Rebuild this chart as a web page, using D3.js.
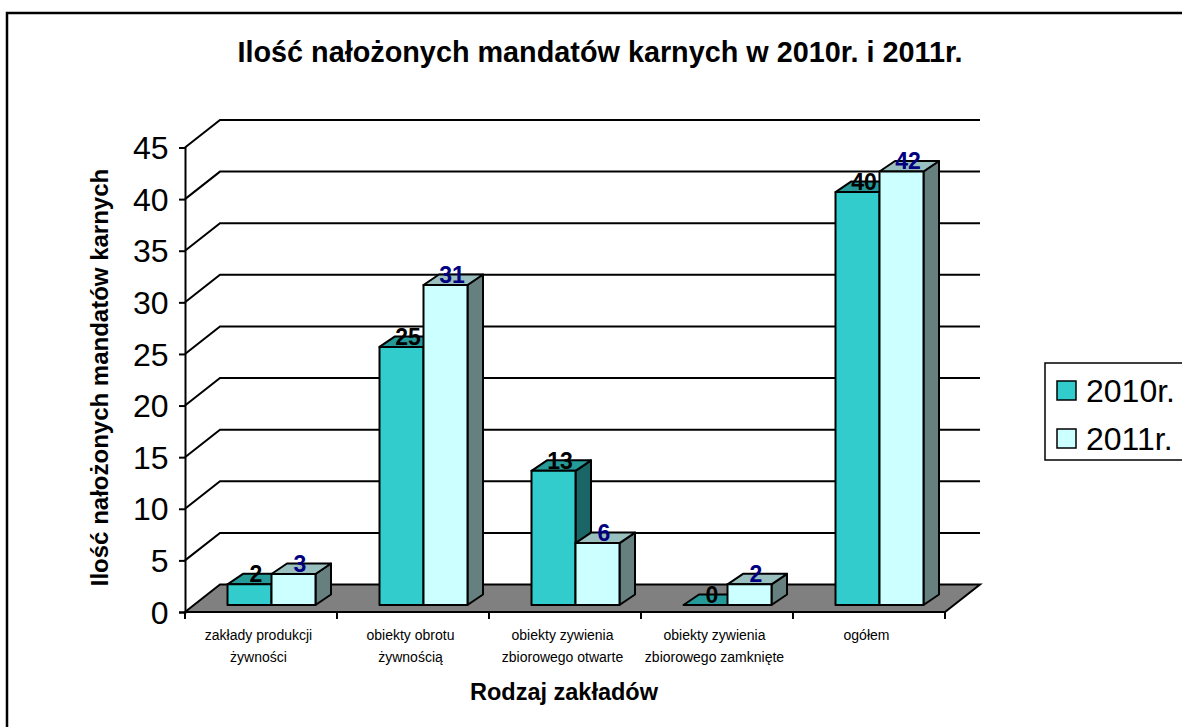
<!DOCTYPE html>
<html>
<head>
<meta charset="utf-8">
<script src="https://cdn.jsdelivr.net/npm/d3@7"></script>
<style>
  html, body { margin: 0; padding: 0; background: #fff; overflow: hidden; }
  text { font-family: "Liberation Sans", Arial, sans-serif; fill: #000; }
</style>
</head>
<body>
<div id="chart"></div>
<script>
var categories = ["c1", "c2", "c3", "c4", "c5"];
var categoryLabels = [
  ["zakłady produkcji", "żywności"],
  ["obiekty obrotu", "żywnością"],
  ["obiekty zywienia", "zbiorowego otwarte"],
  ["obiekty zywienia", "zbiorowego zamknięte"],
  ["ogółem"]
];
var seriesNames = ["2010r.", "2011r."];
var values2010 = [2, 25, 13, 0, 40];
var values2011 = [3, 31, 6, 2, 42];
var yTicks = [0, 5, 10, 15, 20, 25, 30, 35, 40, 45];

var svgWidth = 1182;
var svgHeight = 727;

var svg = d3.select("#chart")
  .append("svg")
  .attr("width", svgWidth)
  .attr("height", svgHeight)
  .style("display", "block");

// chart frame, runs off the right and bottom of the picture
svg.append("rect")
  .attr("x", 7).attr("y", 13)
  .attr("width", 1190).attr("height", 730)
  .attr("fill", "#fff").attr("stroke", "#000").attr("stroke-width", 2.5);

//Plot Scales
const xScale = d3.scaleBand().domain(categories).range([185, 945]);
const yScale = d3.scaleLinear().domain([0, 45]).range([612, 147.5]);

// 3d offsets
const wallDx = 35, wallDy = 27.5;   // front plane to back wall
const barInDx = 10.5, barInDy = 7;  // front plane to bar front
const barDx = 15.5, barDy = 10.5;   // bar depth
const barW = 44;

const poly = pts => pts.map(p => p.join(",")).join(" ");

//Walls gridlines
var y0 = yScale(0), xL = xScale.range()[0], xR = xScale.range()[1];

svg.append("g").selectAll("polyline")
  .data(yTicks.filter(d => d > 0))
  .enter()
  .append("polyline")
  .attr("points", d => poly([[xL, yScale(d)], [xL + wallDx, yScale(d) - wallDy], [xR + wallDx, yScale(d) - wallDy]]))
  .attr("fill", "none")
  .attr("stroke", "#000")
  .attr("stroke-width", 2);

//Floor
svg.append("polygon")
  .attr("points", poly([[xL, y0], [xL + wallDx, y0 - wallDy], [xR + wallDx, y0 - wallDy], [xR, y0]]))
  .attr("fill", "#808080")
  .attr("stroke", "#000")
  .attr("stroke-width", 2);

//Axes
const yAxis = d3.axisLeft(yScale).tickValues(yTicks).tickSize(6).tickPadding(10.5);
var yG = svg.append("g").attr("transform", `translate(${xL}, 0)`).call(yAxis);
yG.selectAll("path, line").attr("stroke", "#000").attr("stroke-width", 2);
yG.selectAll("text")
  .attr("font-size", "32px")
  .attr("dy", "0.35em")
  .style("font-family", '"Liberation Sans", Arial, sans-serif')
  .attr("fill", "#000");

svg.append("line")
  .attr("x1", xL).attr("x2", xR).attr("y1", y0).attr("y2", y0)
  .attr("stroke", "#000").attr("stroke-width", 2);

svg.append("g").selectAll("line")
  .data(categories.map(d => xScale(d)).concat([xR]))
  .enter()
  .append("line")
  .attr("x1", d => d).attr("x2", d => d)
  .attr("y1", y0).attr("y2", y0 + 7)
  .attr("stroke", "#000").attr("stroke-width", 2);

//Bars
var seriesStyle = [
  { values: values2010, front: "#33CCCC", top: "#269999", side: "#1A6666", label: "#000" },
  { values: values2011, front: "#CCFFFF", top: "#99BFBF", side: "#668080", label: "#000080" }
];

var barsG = svg.append("g");
var gap = (xScale.bandwidth() - 2 * barW) / 2;
categories.forEach(function(cat, i) {
  seriesStyle.forEach(function(s, j) {
    var x0 = xScale(cat) + barInDx + gap + j * barW;
    var x1 = x0 + barW;
    var yb = y0 - barInDy;
    var yt = yb - (y0 - yScale(s.values[i]));
    var g = barsG.append("g")
      .attr("stroke", "#000")
      .attr("stroke-width", 2)
      .attr("stroke-linejoin", "round");
    g.append("polygon")
      .attr("points", poly([[x1, yb], [x1 + barDx, yb - barDy], [x1 + barDx, yt - barDy], [x1, yt]]))
      .attr("fill", s.side);
    g.append("polygon")
      .attr("points", poly([[x0, yt], [x0 + barDx, yt - barDy], [x1 + barDx, yt - barDy], [x1, yt]]))
      .attr("fill", s.top);
    g.append("rect")
      .attr("x", x0).attr("y", yt)
      .attr("width", barW).attr("height", yb - yt)
      .attr("fill", s.front);
  });
});

//Text to the datapoint
seriesStyle.forEach(function(s, j) {
  svg.append("g")
    .selectAll("text")
    .data(s.values)
    .enter()
    .append("text")
    .text(d => d)
    .attr("x", (d, i) => xScale(categories[i]) + barInDx + gap + j * barW + barW / 2 + 6.5)
    .attr("y", d => y0 - barInDy - (y0 - yScale(d)) - 10.5)
    .attr("text-anchor", "middle")
    .attr("dy", "0.36em")
    .attr("font-size", "23px")
    .attr("font-weight", "bold")
    .style("fill", s.label);
});

//Category labels
var catG = svg.append("g").selectAll("text")
  .data(categoryLabels)
  .enter()
  .append("text")
  .attr("text-anchor", "middle")
  .attr("font-size", "14px");
catG.selectAll("tspan")
  .data((d, i) => d.map(line => ({ line: line, i: i })))
  .enter()
  .append("tspan")
  .attr("x", d => xScale(categories[d.i]) + xScale.bandwidth() / 2 - 2.5)
  .attr("y", (d, k) => 640 + k * 22)
  .text(d => d.line);

//Titles
svg.append("text")
  .attr("x", 600).attr("y", 62)
  .attr("text-anchor", "middle")
  .attr("font-size", "28.8px").attr("font-weight", "bold")
  .text("Ilość nałożonych mandatów karnych w 2010r. i 2011r.");

svg.append("text")
  .attr("x", 564).attr("y", 700)
  .attr("text-anchor", "middle")
  .attr("font-size", "23.5px").attr("font-weight", "bold")
  .text("Rodzaj zakładów");

svg.append("text")
  .attr("transform", "translate(108, 377.5) rotate(-90)")
  .attr("text-anchor", "middle")
  .attr("font-size", "24px").attr("font-weight", "bold")
  .text("Ilość nałożonych mandatów karnych");

//Legend
svg.append("rect")
  .attr("x", 1045).attr("y", 363)
  .attr("width", 150).attr("height", 97)
  .attr("fill", "#fff").attr("stroke", "#000").attr("stroke-width", 1.5);

var legend = svg.append("g").selectAll("g")
  .data(seriesNames)
  .enter()
  .append("g")
  .attr("transform", (d, i) => `translate(0, ${i * 48})`);

legend.append("rect")
  .attr("x", 1057).attr("y", 381)
  .attr("width", 19).attr("height", 19)
  .attr("fill", (d, i) => seriesStyle[i].front)
  .attr("stroke", "#000").attr("stroke-width", 1.5);

legend.append("text")
  .attr("x", 1086).attr("y", 401.5)
  .attr("font-size", "32px")
  .text(d => d);
</script>
</body>
</html>
